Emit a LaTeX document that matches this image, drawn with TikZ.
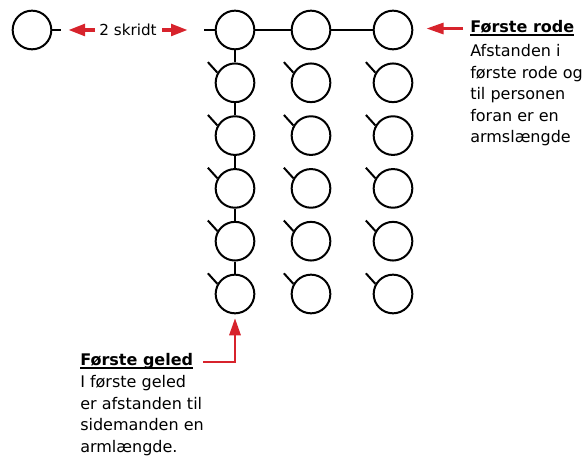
\documentclass[tikz,border=0pt]{standalone}
\usepackage{fontspec}
\setmainfont{DejaVu Sans}
\newcommand{\ultext}[1]{\setbox0\hbox{#1}\rlap{\rule[-2.4pt]{\wd0}{1.3pt}}\box0}
\usetikzlibrary{arrows.meta,positioning,calc}
\definecolor{arrowred}{RGB}{215,35,44}
\tikzset{
  person/.style={draw, circle, line width=1.5pt, minimum size=29pt, inner sep=0pt},
  stub/.style={line width=1.5pt},
  label/.style={inner sep=0pt, font=\fontsize{11.4}{14}\selectfont},
  titletext/.style={inner sep=0pt, font=\bfseries\fontsize{12}{16.2}\selectfont},
  bodytext/.style={inner sep=0pt, align=left, font=\fontsize{12}{16.2}\selectfont,
    execute at begin node={\setlength{\baselineskip}{16.2pt}}},
  bigarrow/.style={draw=arrowred, line width=3pt, -{Triangle[length=12.75pt, width=8.5pt]}},
  thinarrow/.style={draw=arrowred, line width=1.6pt, -{Triangle[length=12.75pt, width=8.5pt]}}
}

\begin{document}
\begin{tikzpicture}[x=0.75pt, y=-0.75pt]
    \useasboundingbox (0,0) rectangle (586,459);
    % Person two steps ahead
    \node[person] (front) at (32,30) {};
    \draw[stub] (front.east) -- ++(9,0);
    \node[label] (skridt) at (128,30) {2 skridt};
    \draw[bigarrow] ($(skridt)+(-33,0)$) -- ($(skridt)+(-60,0)$);
    \draw[bigarrow] ($(skridt)+(34,0)$) -- ($(skridt)+(60,0)$);
    % Formation
    \foreach \row in {1,...,6} {
      \foreach \col/\x in {1/235,2/311,3/393} {
        \node[person] (p\row\col) at (\x,{30+52.8*(\row-1)}) {};
      }
    }
    \foreach \row in {2,...,6} {
      \foreach \col in {1,2,3} {
        \draw[stub] (p\row\col.150) -- ++(-9.5,-10.5);
      }
    }
    \draw[stub] (p11.west) -- ++(-11,0);
    \draw[stub] (p11) -- (p12) -- (p13);
    \foreach \row in {1,...,5} {
      \pgfmathtruncatemacro\nxt{\row+1}
      \draw[stub] (p\row1) -- (p\nxt1);
    }
    % Første rode
    \node[titletext, anchor=base west] (rodetitle) at (470,33) {\ultext{Første rode}};
    \node[bodytext, anchor=north west] (rodebody) at (470,44) {Afstanden i\\første rode og\\til personen\\foran er en\\armslængde};
    \draw[thinarrow, shorten <=5.25pt, shorten >=10pt] (rodetitle.west) -- (rodetitle.west -| p13.east);
    % Første geled
    \node[titletext, anchor=base west] (geledtitle) at (80,366) {\ultext{Første geled}};
    \node[bodytext, anchor=north west] (geledbody) at (80,375) {I første geled\\er afstanden til\\sidemanden en\\armlængde.};
    \draw[thinarrow, shorten <=7.5pt, shorten >=3pt] (geledtitle.east) -| (p61.south);
\end{tikzpicture}
\end{document}
